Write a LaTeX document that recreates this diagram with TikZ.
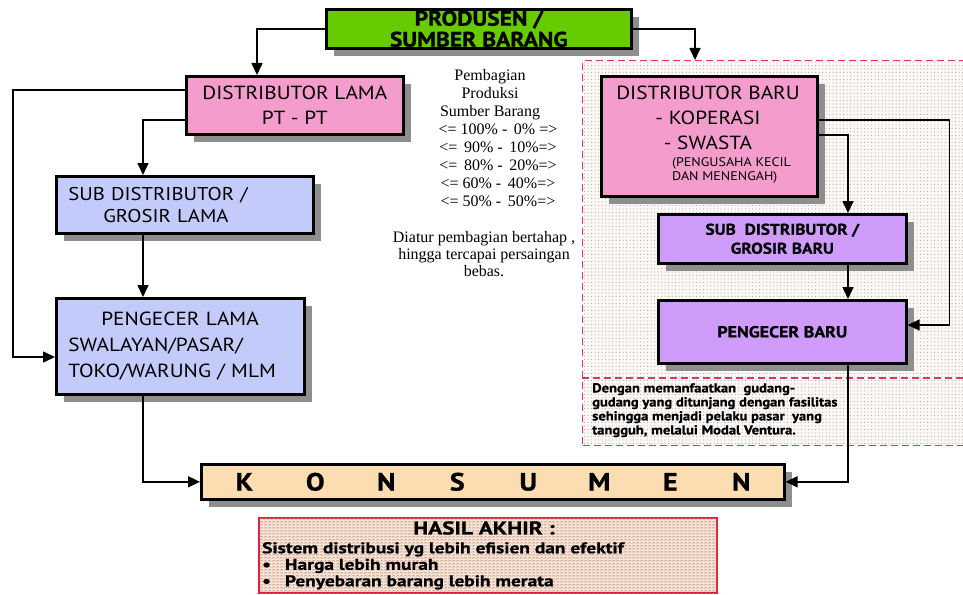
\documentclass[tikz,border=0pt]{standalone}
\usepackage{fontspec}
\setmainfont{Liberation Serif}
\newfontfamily\boxfont[FakeStretch=1.12]{PT Sans}
\newfontfamily\heavyfont[FakeStretch=1.12,FakeBold=0.9]{PT Sans}
\newfontfamily\widefont[FakeStretch=1.25,FakeBold=0.9]{PT Sans}
\usetikzlibrary{shadows,arrows.meta,patterns.meta}

\definecolor{prodgreen}{HTML}{66CC00}
\definecolor{distpink}{HTML}{F49CCB}
\definecolor{oldblue}{HTML}{C3CBFA}
\definecolor{newlilac}{HTML}{CF9CFC}
\definecolor{peach}{HTML}{FCDDB2}
\definecolor{shade}{HTML}{8E8E8E}
\definecolor{zonered}{HTML}{E0336B}
\definecolor{zonefill}{HTML}{FBF8F5}
\definecolor{resultred}{HTML}{DD1E3A}
\definecolor{resultfill}{HTML}{F6E6D8}
\definecolor{zigzagcol}{HTML}{C98B7C}

% small zigzag texture for the result panel
\pgfdeclarepattern{
  name=zigzag,
  type=uncolored,
  bottom left={\pgfpoint{0pt}{0pt}},
  top right={\pgfpoint{4pt}{3pt}},
  tile size={\pgfpoint{4pt}{3pt}},
  code={
    \pgfsetlinewidth{0.55pt}
    \pgfpathmoveto{\pgfpoint{0pt}{0.8pt}}
    \pgfpathlineto{\pgfpoint{2pt}{2.2pt}}
    \pgfpathlineto{\pgfpoint{4pt}{0.8pt}}
    \pgfusepath{stroke}
  }
}

\tikzset{
  box/.style={draw=black, line width=2.6pt, inner sep=0pt, align=center,
    anchor=north west, font=\boxfont, text=black,
    drop shadow={shadow xshift=8pt, shadow yshift=-8pt, fill=shade, opacity=1}},
  bigtxt/.style={font=\boxfont\fontsize{19}{25}\selectfont},
  boldtxt/.style={font=\heavyfont\bfseries\fontsize{15.5}{19}\selectfont},
  conn/.style={line width=1.6pt, draw=black},
  arrowed/.style={conn, -{Triangle[length=12pt,width=11pt]}},
  zone/.style={draw=zonered, line width=1.1pt, dash pattern=on 7pt off 4pt,
    fill=zonefill, anchor=north west, inner sep=0pt,
    postaction={pattern={Dots[distance=3.5pt,radius=0.5pt]}, pattern color=black!40}},
  zoneline/.style={draw=zonered, line width=1.1pt, dash pattern=on 7pt off 4pt},
  plain/.style={inner sep=0pt}
}

\begin{document}
\begin{tikzpicture}[x=1pt,y=-1pt]
\useasboundingbox (0,0) rectangle (963,594);

% region of the new distribution chain
\node[zone, minimum width=384pt, minimum height=385pt] (zone) at (582,60) {};
\draw[zoneline] (zone.west |- 0,378) -- (zone.east |- 0,378);

% producer
\node[box, fill=prodgreen, minimum width=305pt, minimum height=39pt,
  font=\heavyfont\bfseries\fontsize{21}{21}\selectfont] (prod) at (325,8)
  {PRODUSEN /\\SUMBER BARANG};

% old chain
\node[box, fill=distpink, minimum width=217pt, minimum height=58pt, bigtxt] (dl) at (185,75)
  {DISTRIBUTOR LAMA\\PT - PT};
\node[box, fill=oldblue, minimum width=257pt, minimum height=57pt, align=left,
  text width=233pt, font=\boxfont\fontsize{18.5}{22}\selectfont] (sdl) at (55,175)
  {SUB DISTRIBUTOR /\\\hspace*{35pt}GROSIR LAMA};
\node[box, fill=oldblue, minimum width=248pt, minimum height=96pt, align=left,
  text width=224pt, font=\boxfont\fontsize{19}{26}\selectfont] (pl) at (55,297)
  {\hspace*{33pt}PENGECER LAMA\\SWALAYAN/PASAR/\\TOKO/WARUNG / MLM};

% new chain
\node[box, fill=distpink, minimum width=216pt, minimum height=120pt] (db) at (600,75) {};
\node[plain, bigtxt, align=center] (dbtext) at (708,118)
  {DISTRIBUTOR BARU\\- KOPERASI\\- SWASTA};
\node[plain, anchor=west, align=left, font=\boxfont\fontsize{12.5}{14}\selectfont] (dbnote) at (672,170)
  {(PENGUSAHA KECIL\\DAN MENENGAH)};
\node[box, fill=newlilac, minimum width=248pt, minimum height=49pt, boldtxt] (sdb) at (657,213)
  {SUB\ \ DISTRIBUTOR /\\GROSIR BARU};
\node[box, fill=newlilac, minimum width=248pt, minimum height=63pt, boldtxt,
  font=\heavyfont\bfseries\fontsize{16}{19}\selectfont] (pb) at (657,299)
  {PENGECER BARU};

\node[plain, anchor=north west, align=left, font=\heavyfont\bfseries\fontsize{13}{14}\selectfont] (zonenote) at (592,383)
  {Dengan memanfaatkan\ \ gudang-\\gudang yang ditunjang dengan fasilitas\\sehingga menjadi pelaku pasar\ \ yang\\tangguh, melalui Modal Ventura.};

% production share notes
\node[plain, anchor=north, align=center, font=\fontsize{16}{18}\selectfont] (mid) at (490,69)
  {Pembagian\\Produksi\\Sumber Barang\\
   \hspace*{16pt}<= 100\% - \,0\% =>\\
   \hspace*{16pt}<= \,90\% - \,10\%=>\\
   \hspace*{16pt}<= \,80\% - \,20\%=>\\
   \hspace*{16pt}<= 60\% - \,40\%=>\\
   \hspace*{16pt}<= 50\% - \,50\%=>};
\node[plain, anchor=north, align=center, font=\fontsize{16}{17}\selectfont] (midnote) at (484,231)
  {Diatur pembagian bertahap ,\\hingga tercapai persaingan\\bebas.};

% consumer
\node[box, fill=peach, minimum width=583pt, minimum height=35pt,
  font=\heavyfont\bfseries\fontsize{25}{25}\selectfont] (kons) at (200,463)
  {\makebox[71pt]{K}\makebox[71pt]{O}\makebox[71pt]{N}\makebox[71pt]{S}%
   \makebox[71pt]{U}\makebox[71pt]{M}\makebox[71pt]{E}\makebox[71pt]{N}};

% final result
\node[draw=resultred, line width=2.4pt, fill=resultfill, anchor=north west, inner sep=0pt,
  minimum width=458pt, minimum height=75pt,
  postaction={pattern=zigzag, pattern color=zigzagcol}] (res) at (258,517) {};
\node[plain, font=\widefont\bfseries\fontsize{18.5}{18}\selectfont] (restitle) at (484,528) {HASIL AKHIR :};
\node[plain, anchor=north west, align=left, font=\widefont\bfseries\fontsize{15.5}{16.5}\selectfont] (resbody) at (262,542)
  {Sistem distribusi yg lebih efisien dan efektif\\
   •\hspace{14pt}Harga lebih murah\\
   •\hspace{14pt}Penyebaran barang lebih merata};

% connectors
\draw[arrowed] (prod.west) -| (dl.north -| 257,0);
\draw[arrowed] (prod.east) -| (zone.north -| 695,0);
\draw[arrowed] (dl.west |- 0,90) -- ++(-172,0) |- (pl.west |- 0,357);
\draw[arrowed] (dl.west |- 0,120) -| (sdl.north -| 143,0);
\draw[arrowed] (sdl.south -| 143,0) -- (pl.north -| 143,0);
\draw[arrowed] (pl.south -| 143,0) |- (kons.west);
\draw[arrowed] (db.east |- 0,120) -- ++(131,0) |- (pb.east |- 0,325);
\draw[arrowed] (db.east |- 0,135) -| (sdb.north -| 848,0);
\draw[arrowed] (sdb.south -| 848,0) -- (pb.north -| 848,0);
\draw[arrowed] (pb.south -| 848,0) |- (kons.east);
\end{tikzpicture}
\end{document}
